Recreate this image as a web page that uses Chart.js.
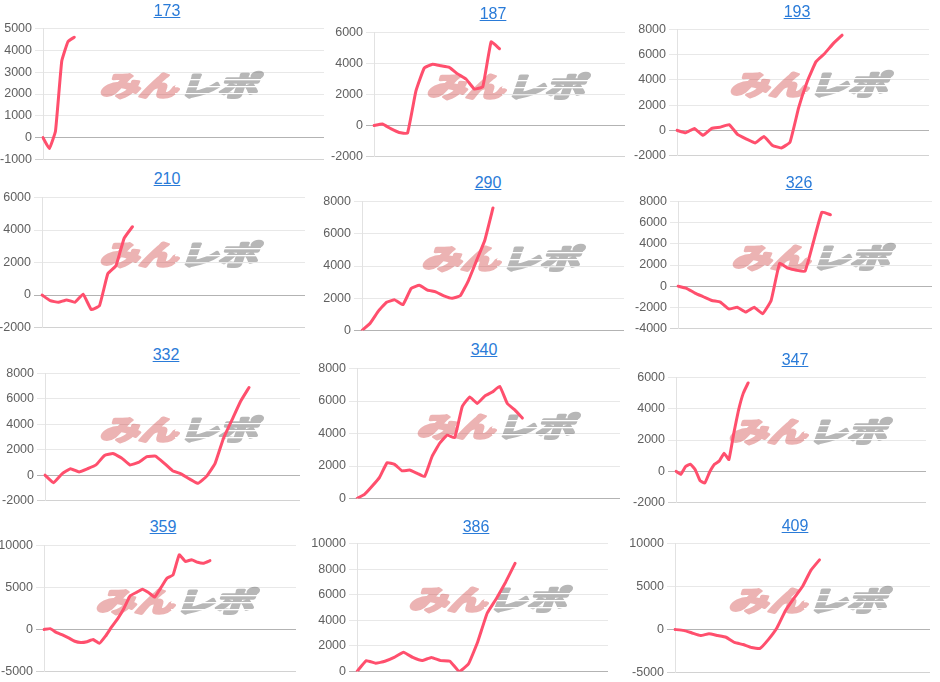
<!DOCTYPE html>
<html>
<head>
<meta charset="utf-8">
<script src="https://cdn.jsdelivr.net/npm/chart.js@4.4.0/dist/chart.umd.min.js"></script>
<style>
html, body { margin: 0; padding: 0; background: #fff; }
body { width: 940px; height: 682px; position: relative; overflow: hidden; font-family: "Liberation Sans", Arial, sans-serif; }
.ttl { position: absolute; transform: translate(-50%, -50%); font-size: 16px; line-height: 16px; color: #2a7bd8; text-decoration: underline; white-space: nowrap; }
canvas { position: absolute; }
</style>
</head>
<body>
<script>
/* --- 12 mini charts: slot graphs --- */

// === data ===
const titles = ['173', '187', '193', '210', '290', '326', '332', '340', '347', '359', '386', '409'];

// number of x slots for each chart (the line only fills part of it)
const slotCounts = [46, 31, 30, 33, 33, 31, 31, 36, 53, 42, 28, 31];

const data173 = [0, -500, 300, 3500, 4400, 4600];
const data187 = [0, 100, -200, -450, -500, 2200, 3700, 3950, 3850, 3750, 3330, 3000, 2350, 2500, 5400, 4950];
const data193 = [0, -200, 150, -400, 150, 250, 450, -350, -700, -1000, -500, -1200, -1400, -950, 1800, 3900, 5450, 6100, 6900, 7550];
const data210 = [0, -350, -450, -300, -450, 50, -900, -650, 1300, 1800, 3500, 4200];
const data290 = [0, 450, 1200, 1750, 1900, 1600, 2600, 2800, 2500, 2400, 2150, 2000, 2150, 3100, 4350, 5600, 7600];
const data326 = [0, -200, -650, -1000, -1350, -1500, -2150, -2000, -2450, -2000, -2600, -1350, 2150, 1700, 1500, 1400, 4200, 7000, 6750];
const data332 = [0, -600, 100, 500, 250, 500, 800, 1550, 1700, 1350, 800, 1000, 1450, 1500, 950, 350, 100, -300, -650, -100, 900, 2900, 4350, 5800, 6900];
const data340 = [0, 250, 750, 1300, 2200, 2100, 1700, 1750, 1550, 1350, 2600, 3400, 3900, 3750, 5650, 6250, 5850, 6300, 6550, 6900, 5850, 5450, 4950];
const data347 = [0, -200, 300, 450, 100, -600, -750, -50, 450, 650, 1150, 750, 2400, 3900, 5000, 5650];
const data359 = [0, 100, -350, -650, -1000, -1400, -1550, -1450, -1200, -1650, -800, 300, 1300, 2500, 4000, 4400, 4800, 4400, 3850, 4950, 6100, 6500, 8900, 8100, 8300, 8000, 7900, 8200];
const data386 = [0, 850, 650, 800, 1100, 1500, 1100, 850, 1100, 850, 800, 0, 600, 2350, 4550, 5700, 7000, 8450];
const data409 = [0, -100, -400, -700, -500, -700, -900, -1500, -1750, -2100, -2200, -1150, 200, 2200, 3650, 5000, 6900, 8100];

// y axis ranges
const yMins  = [-1000, -2000, -2000, -2000, 0, -4000, -2000, 0, -2000, -5000, 0, -5000];
const yMaxs  = [5000, 6000, 8000, 6000, 8000, 8000, 8000, 8000, 6000, 10000, 10000, 10000];
const ySteps = [1000, 2000, 2000, 2000, 2000, 2000, 2000, 2000, 2000, 5000, 2000, 5000];

const allSeries = [data173, data187, data193, data210, data290, data326, data332, data340, data347, data359, data386, data409];

// === layout (page px): plot area [left, top, right, bottom], title centre, watermark centre ===
const plotBoxes = [
    [43, 28, 324, 160], [374, 32, 625, 157], [677, 29, 929, 156],
    [42, 197, 305, 328], [362, 201, 624, 331], [678, 201, 932, 329],
    [45, 373, 300, 501], [357, 368, 620, 499], [676, 377, 926, 503],
    [44, 545, 296, 672], [357, 543, 608, 672], [675, 543, 930, 673]
];
const titlePos = [
    [167, 11], [493, 14], [797, 12],
    [167, 179], [488, 183], [799, 183],
    [166, 355], [484, 350], [795, 360],
    [163, 527], [476, 527], [795, 526]
];
const markPos = [
    [183, 85], [510, 86], [813, 84],
    [183, 254], [505, 258], [815, 257],
    [183, 429], [500, 426], [812, 431],
    [179, 601], [492, 599], [812, 600]
];

const AXIS_W = 45;
const PAD = 10;
const LINE_COLOR = '#ff4f6d';
const GRID = '#e8e8e8';
const GRID_BASE = '#d2d2d2';
const GRID_ZERO = '#b3b3b3';

// watermark "みんレポ" drawn once on a small canvas, then stamped on every chart
function makeWatermark() {
    const c = document.createElement('canvas');
    c.width = 180; c.height = 44;
    const g = c.getContext('2d');
    g.font = 'bold 30px "Noto Sans CJK JP"';
    g.textBaseline = 'middle';
    g.lineJoin = 'round';
    g.lineWidth = 3.2;
    g.setTransform(1.3, 0, -0.32, 0.92, 12, 23);
    const w1 = g.measureText('みん').width;
    g.fillStyle = g.strokeStyle = '#d24b4b';
    g.fillText('みん', 0, 0);
    g.strokeText('みん', 0, 0);
    g.fillStyle = g.strokeStyle = '#555555';
    g.fillText('レポ', w1 + 1, 0);
    g.strokeText('レポ', w1 + 1, 0);
    // speed stripes through レポ
    g.setTransform(1, 0, 0, 1, 0, 0);
    g.globalCompositeOperation = 'destination-out';
    const xs = 12 + w1 * 1.3 - 6;
    [16, 23, 30].forEach(y => g.fillRect(xs, y, 180 - xs, 1.3));
    return c;
}
const wmImage = makeWatermark();

const watermarkPlugin = {
    id: 'watermark',
    beforeDatasetsDraw(chart, args, opts) {
        const ctx = chart.ctx;
        ctx.save();
        ctx.globalAlpha = 0.42;
        ctx.drawImage(wmImage, Math.round(opts.x - 92), Math.round(opts.y - 22));
        ctx.restore();
    }
};

allSeries.forEach((series, i) => {
    const [pl, pt, pr, pb] = plotBoxes[i];
    const cl = pl - AXIS_W, ct = pt - PAD;
    const w = pr - cl, h = pb - pt + 2 * PAD;

    const cv = document.createElement('canvas');
    cv.width = w; cv.height = h;
    cv.style.left = cl + 'px'; cv.style.top = ct + 'px';
    cv.style.width = w + 'px'; cv.style.height = h + 'px';
    document.body.appendChild(cv);

    const t = document.createElement('a');
    t.className = 'ttl';
    t.href = '#';
    t.textContent = titles[i];
    t.style.left = titlePos[i][0] + 'px';
    t.style.top = titlePos[i][1] + 'px';
    document.body.appendChild(t);

    const labels = Array.from({ length: slotCounts[i] }, (_, k) => String(k + 1));

    new Chart(cv.getContext('2d'), {
        type: 'line',
        data: {
            labels: labels,
            datasets: [{
                data: series,
                borderColor: LINE_COLOR,
                backgroundColor: LINE_COLOR,
                borderWidth: 3,
                pointRadius: 0,
                pointHoverRadius: 0,
                tension: 0.1,
                fill: false,
                borderJoinStyle: 'round',
                borderCapStyle: 'round'
            }]
        },
        options: {
            responsive: false,
            animation: false,
            events: [],
            layout: { padding: { top: PAD, bottom: PAD, left: 0, right: 0 } },
            scales: {
                x: { display: false },
                y: {
                    min: yMins[i],
                    max: yMaxs[i],
                    afterFit: s => { s.width = AXIS_W; },
                    border: { display: true, color: '#e2e2e2' },
                    grid: {
                        tickLength: 8,
                        color: c => (c.tick && c.tick.value === 0) ? GRID_ZERO : (c.index === 0 ? GRID_BASE : GRID)
                    },
                    ticks: {
                        stepSize: ySteps[i],
                        autoSkip: false,
                        padding: 3,
                        color: '#606060',
                        font: { family: '"Liberation Sans", Arial, sans-serif', size: 12.5 },
                        callback: v => String(v)
                    }
                }
            },
            plugins: {
                legend: { display: false },
                tooltip: { enabled: false },
                watermark: { x: markPos[i][0] - cl, y: markPos[i][1] - ct }
            }
        },
        plugins: [watermarkPlugin]
    });
});
</script>
</body>
</html>
